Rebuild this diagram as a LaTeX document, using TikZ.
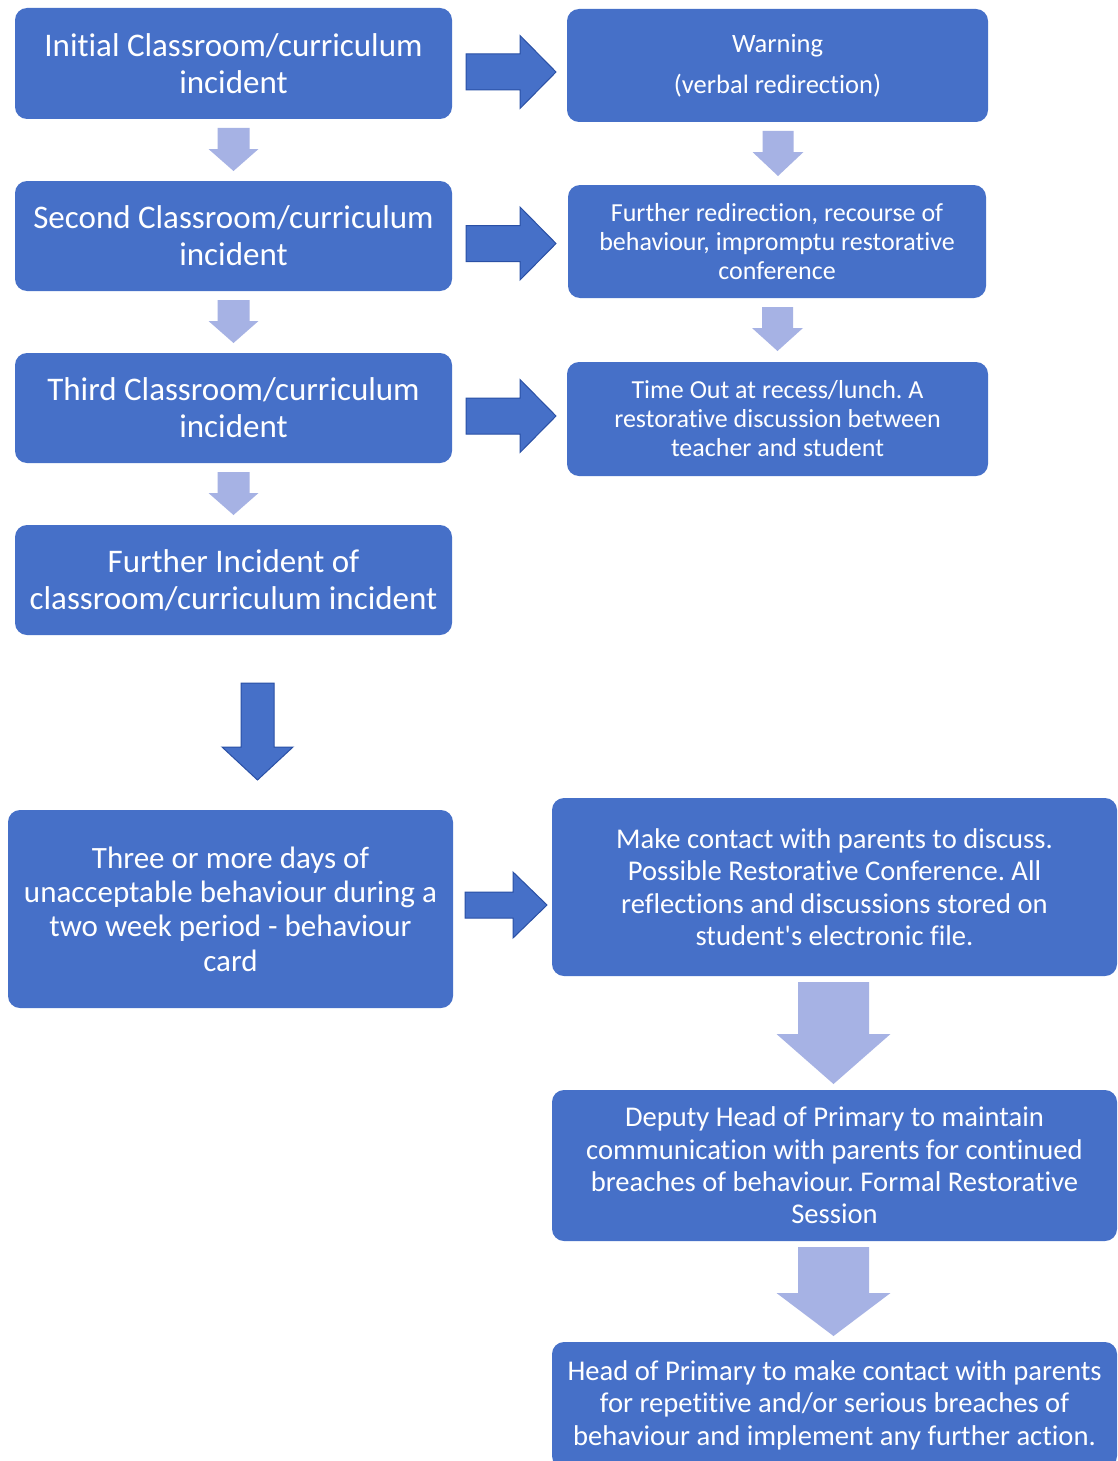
\documentclass[tikz,border=0pt]{standalone}
\usepackage{fontspec}
\setmainfont{Carlito}[Ligatures={TeXOff,CommonOff}]
\usetikzlibrary{calc}
\definecolor{boxblue}{RGB}{70,112,200}
\definecolor{edgeblue}{RGB}{42,80,165}
\definecolor{lightarr}{RGB}{166,178,228}
\newcommand\vblk[6]{\path[#1,shift={(#2)}] (-#3,0) -- (-#3,-#5) -- (-#4,-#5) -- (0,-#6) -- (#4,-#5) -- (#3,-#5) -- (#3,0) -- cycle;}
\newcommand\hblk[6]{\path[#1,shift={(#2)}] (0,#3) -- (#5,#3) -- (#5,#4) -- (#6,0) -- (#5,-#4) -- (#5,-#3) -- (0,-#3) -- cycle;}
\frenchspacing
\begin{document}
\begin{tikzpicture}[x=1pt,y=1pt,
  box/.style={fill=boxblue, text=white, rounded corners=12pt, align=center, inner sep=0pt, outer sep=0pt},
  big/.style={box, font=\fontsize{33}{37}\selectfont},
  mid/.style={box, font=\fontsize{26}{29}\selectfont},
  lrg/.style={box, font=\fontsize{28.6}{32.4}\selectfont},
  lightfill/.style={fill=lightarr},
  darkfill/.style={fill=boxblue, draw=edgeblue, line width=1pt, line join=miter}]
\useasboundingbox (0,0) rectangle (1118,-1461);
\fill[white] (0,0) rectangle (1118,-1461);
\clip (0,0) rectangle (1118,-1461);
% left column
\node[big, minimum width=437, minimum height=111] (A1) at (233.5,-63.5) {Initial Classroom/curriculum\\incident};
\node[big, minimum width=437, minimum height=110] (A2) at (233.5,-236) {Second Classroom/curriculum\\incident};
\node[big, minimum width=437, minimum height=110] (A3) at (233.5,-408) {Third Classroom/curriculum\\incident};
\node[big, minimum width=437, minimum height=110] (A4) at (233.5,-580) {Further Incident of\\classroom/curriculum incident};
% right column
\node[box, font=\fontsize{26.5}{41}\selectfont, minimum width=421, minimum height=113] (B1) at (777.5,-65.5) {Warning\\(verbal redirection)};
\node[mid, minimum width=418, minimum height=113] (B2) at (777,-241.5) {Further redirection, recourse of\\behaviour, impromptu restorative\\conference};
\node[mid, minimum width=421, minimum height=114] (B3) at (777.5,-419) {Time Out at recess/lunch. A\\restorative discussion between\\teacher and student};
% lower part
\node[box, font=\fontsize{31}{34.3}\selectfont, minimum width=445, minimum height=198] (C1) at (230.5,-909) {Three or more days of\\unacceptable behaviour during a\\two week period - behaviour\\card};
\node[lrg, minimum width=565, minimum height=178] (D1) at (834.5,-887) {Make contact with parents to discuss.\\Possible Restorative Conference. All\\reflections and discussions stored on\\student's electronic file.};
\node[lrg, minimum width=565, minimum height=151] (D2) at (834.5,-1165.5) {Deputy Head of Primary to maintain\\communication with parents for continued\\breaches of behaviour. Formal Restorative\\Session};
\node[lrg, minimum width=565, minimum height=126] (D3) at (834.5,-1405) {Head of Primary to make contact with parents\\for repetitive and/or serious breaches of\\behaviour and implement any further action.};
% small light down arrows
\vblk{lightfill}{$(A1.south)+(0,-9)$}{16}{25}{21}{43}
\vblk{lightfill}{$(A2.south)+(0,-9)$}{16}{25}{21}{43}
\vblk{lightfill}{$(A3.south)+(0,-9)$}{16}{25}{21}{43}
\vblk{lightfill}{$(B1.south)+(0.5,-9)$}{15.5}{25.5}{21}{45}
\vblk{lightfill}{$(B2.south)+(0.5,-9)$}{15.5}{25.5}{21}{44}
% big light down arrows
\vblk{lightfill}{$(D1.south)+(-1,-6)$}{35.5}{57}{52}{102}
\vblk{lightfill}{$(D2.south)+(-1,-6)$}{35.5}{57}{46}{89}
% dark down arrow
\vblk{darkfill}{$(A4.south)+(24,-48)$}{16.5}{35.5}{64}{97}
% dark right arrows
\hblk{darkfill}{$(A1.east)+(14,-8.5)$}{18}{36.5}{54}{90}
\hblk{darkfill}{$(A2.east)+(14,-7.5)$}{18}{36.5}{54}{90}
\hblk{darkfill}{$(A3.east)+(14,-8)$}{18}{36.5}{54}{90}
\hblk{darkfill}{$(C1.east)+(12,4)$}{13}{33}{48}{82}
\end{tikzpicture}
\end{document}
